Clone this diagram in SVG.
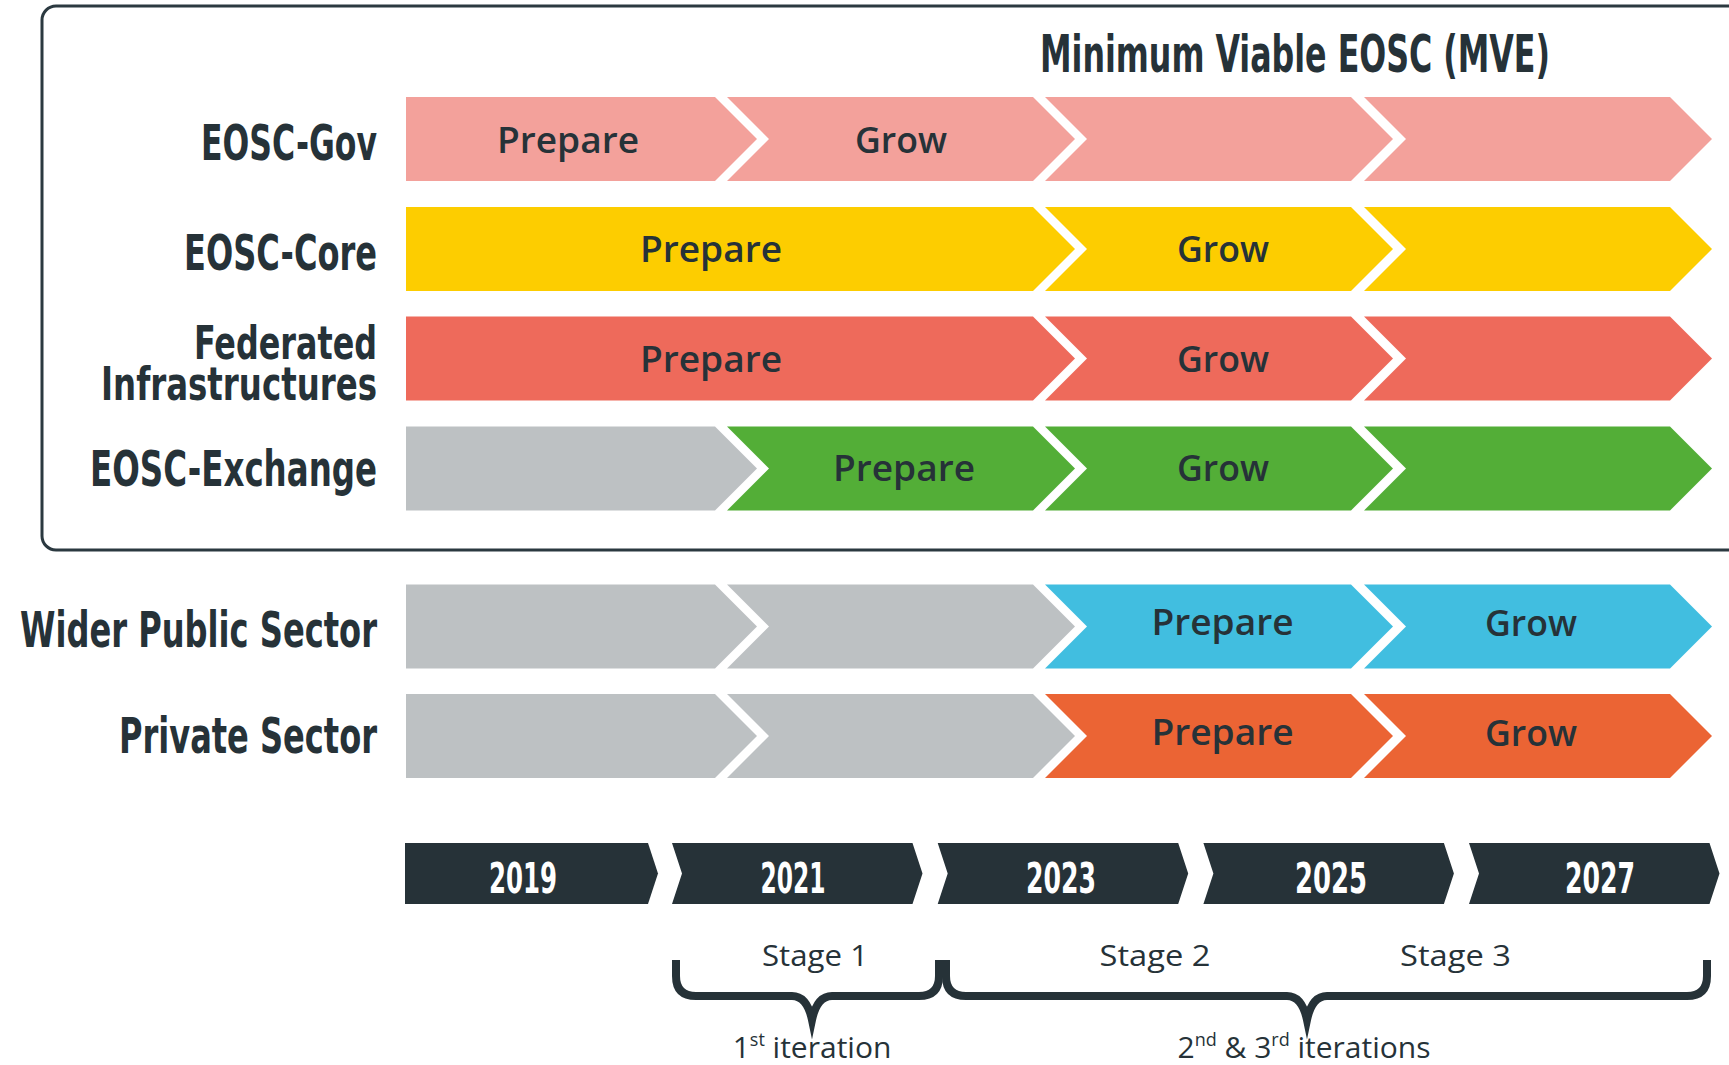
<svg xmlns="http://www.w3.org/2000/svg" xmlns:xlink="http://www.w3.org/1999/xlink" width="1729" height="1065" viewBox="0 0 1729 1065">
<style>
.lbl{font-family:"Liberation Sans Narrow","DejaVu Sans Condensed","DejaVu Sans",sans-serif;font-weight:bold;font-stretch:condensed;fill:#263238;font-size:50px;text-anchor:end}
.lbl2{font-size:46px}
.title{font-family:"Liberation Sans Narrow","DejaVu Sans Condensed","DejaVu Sans",sans-serif;font-weight:bold;font-stretch:condensed;fill:#263238;font-size:52px}
.yr{font-family:"Liberation Sans Narrow","DejaVu Sans Condensed","DejaVu Sans",sans-serif;font-weight:bold;font-stretch:condensed;fill:#ffffff;font-size:43px;text-anchor:middle}
.seg{font-family:"Open Sans","Noto Sans","DejaVu Sans",sans-serif;font-weight:600;fill:#263238;font-size:36px;text-anchor:middle}
.stg{font-family:"Open Sans","Noto Sans","DejaVu Sans",sans-serif;font-weight:400;fill:#263238;font-size:30px;text-anchor:middle}
.brace{fill:none;stroke:#263238;stroke-width:8;stroke-linejoin:miter;stroke-miterlimit:10}
.pink{fill:#F3A19B}.yel{fill:#FDCD00}.red{fill:#EE6A5B}.gray{fill:#BDC1C3}.grn{fill:#53AE37}.blue{fill:#41BEE0}.org{fill:#EB6434}.dark{fill:#263238}
</style>
<defs>
<path id="first" d="M0,0 H309 L351,42 L309,84 H0 Z"/>
<path id="firstD" d="M0,0 H627 L669,42 L627,84 H0 Z"/>
<path id="mid" d="M0,0 H306 L348,42 L306,84 H0 L42,42 Z"/>
<path id="yfirst" d="M0,0 H243 L253,30.5 L243,61 H0 Z"/>
<path id="ymid" d="M0,0 H240.5 L250.5,30.5 L240.5,61 H0 L10,30.5 Z"/>
</defs>
<rect width="1729" height="1065" fill="#ffffff"/>
<g id="frame">
<rect x="42" y="6" width="1800" height="544" rx="14" ry="14" fill="none" stroke="#2B3940" stroke-width="3"/>
<text class="title" x="1040" y="72" textLength="510" lengthAdjust="spacingAndGlyphs">Minimum Viable EOSC (MVE)</text>
</g>
<g id="eosc-gov">
<text class="lbl" x="377" y="160" textLength="176" lengthAdjust="spacingAndGlyphs">EOSC-Gov</text>
<use xlink:href="#first" x="406" y="97" class="pink"/>
<use xlink:href="#mid" x="727" y="97" class="pink"/>
<use xlink:href="#mid" x="1045" y="97" class="pink"/>
<use xlink:href="#mid" x="1364" y="97" class="pink"/>
<text class="seg" x="568" y="153" textLength="142" lengthAdjust="spacingAndGlyphs">Prepare</text>
<text class="seg" x="901" y="153" textLength="92" lengthAdjust="spacingAndGlyphs">Grow</text>
</g>
<g id="eosc-core">
<text class="lbl" x="377" y="270" textLength="193" lengthAdjust="spacingAndGlyphs">EOSC-Core</text>
<use xlink:href="#firstD" x="406" y="207" class="yel"/>
<use xlink:href="#mid" x="1045" y="207" class="yel"/>
<use xlink:href="#mid" x="1364" y="207" class="yel"/>
<text class="seg" x="711" y="262" textLength="142" lengthAdjust="spacingAndGlyphs">Prepare</text>
<text class="seg" x="1223" y="262" textLength="92" lengthAdjust="spacingAndGlyphs">Grow</text>
</g>
<g id="federated-infrastructures">
<text class="lbl lbl2" x="377" y="359" textLength="183" lengthAdjust="spacingAndGlyphs">Federated</text>
<text class="lbl lbl2" x="377" y="400" textLength="276" lengthAdjust="spacingAndGlyphs">Infrastructures</text>
<use xlink:href="#firstD" x="406" y="316.5" class="red"/>
<use xlink:href="#mid" x="1045" y="316.5" class="red"/>
<use xlink:href="#mid" x="1364" y="316.5" class="red"/>
<text class="seg" x="711" y="372" textLength="142" lengthAdjust="spacingAndGlyphs">Prepare</text>
<text class="seg" x="1223" y="372" textLength="92" lengthAdjust="spacingAndGlyphs">Grow</text>
</g>
<g id="eosc-exchange">
<text class="lbl" x="377" y="486" textLength="287" lengthAdjust="spacingAndGlyphs">EOSC-Exchange</text>
<use xlink:href="#first" x="406" y="426.5" class="gray"/>
<use xlink:href="#mid" x="727" y="426.5" class="grn"/>
<use xlink:href="#mid" x="1045" y="426.5" class="grn"/>
<use xlink:href="#mid" x="1364" y="426.5" class="grn"/>
<text class="seg" x="904" y="481" textLength="142" lengthAdjust="spacingAndGlyphs">Prepare</text>
<text class="seg" x="1223" y="481" textLength="92" lengthAdjust="spacingAndGlyphs">Grow</text>
</g>
<g id="wider-public-sector">
<text class="lbl" x="377" y="647" textLength="357" lengthAdjust="spacingAndGlyphs">Wider Public Sector</text>
<use xlink:href="#first" x="406" y="584.5" class="gray"/>
<use xlink:href="#mid" x="727" y="584.5" class="gray"/>
<use xlink:href="#mid" x="1045" y="584.5" class="blue"/>
<use xlink:href="#mid" x="1364" y="584.5" class="blue"/>
<text class="seg" x="1222.5" y="635" textLength="142" lengthAdjust="spacingAndGlyphs">Prepare</text>
<text class="seg" x="1531" y="636" textLength="92" lengthAdjust="spacingAndGlyphs">Grow</text>
</g>
<g id="private-sector">
<text class="lbl" x="377" y="753" textLength="258" lengthAdjust="spacingAndGlyphs">Private Sector</text>
<use xlink:href="#first" x="406" y="694" class="gray"/>
<use xlink:href="#mid" x="727" y="694" class="gray"/>
<use xlink:href="#mid" x="1045" y="694" class="org"/>
<use xlink:href="#mid" x="1364" y="694" class="org"/>
<text class="seg" x="1222.5" y="745" textLength="142" lengthAdjust="spacingAndGlyphs">Prepare</text>
<text class="seg" x="1531" y="746" textLength="92" lengthAdjust="spacingAndGlyphs">Grow</text>
</g>
<g id="timeline">
<use xlink:href="#yfirst" x="405" y="843" class="dark"/>
<use xlink:href="#ymid" x="672" y="843" class="dark"/>
<use xlink:href="#ymid" x="937.7" y="843" class="dark"/>
<use xlink:href="#ymid" x="1203.4" y="843" class="dark"/>
<use xlink:href="#ymid" x="1469" y="843" class="dark"/>
<text class="yr" x="523" y="893" textLength="68" lengthAdjust="spacingAndGlyphs">2019</text>
<text class="yr" x="793" y="893" textLength="65" lengthAdjust="spacingAndGlyphs">2021</text>
<text class="yr" x="1061" y="893" textLength="70" lengthAdjust="spacingAndGlyphs">2023</text>
<text class="yr" x="1331" y="893" textLength="72" lengthAdjust="spacingAndGlyphs">2025</text>
<text class="yr" x="1600" y="893" textLength="70" lengthAdjust="spacingAndGlyphs">2027</text>
</g>
<g id="stages">
<text class="stg" x="815" y="966" textLength="106" lengthAdjust="spacingAndGlyphs">Stage 1</text>
<text class="stg" x="1155" y="966" textLength="111" lengthAdjust="spacingAndGlyphs">Stage 2</text>
<text class="stg" x="1455.5" y="966" textLength="111" lengthAdjust="spacingAndGlyphs">Stage 3</text>
</g>
<g id="connectors">
<path class="brace" d="M676,960 V976 Q676,996 696,996 H792 Q807,996 812,1020 Q817,996 832,996 H919 Q939,996 939,976 V960"/>
<path class="brace" d="M946,960 V976 Q946,996 966,996 H1287 Q1302,996 1307,1020 Q1312,996 1327,996 H1687 Q1707,996 1707,976 V960"/>
</g>
<g id="iterations">
<text class="stg" x="812" y="1058">1<tspan font-size="18" dy="-12">st</tspan><tspan dy="12"> iteration</tspan></text>
<text class="stg" x="1304" y="1058">2<tspan font-size="18" dy="-12">nd</tspan><tspan dy="12"> &amp; 3</tspan><tspan font-size="18" dy="-12">rd</tspan><tspan dy="12"> iterations</tspan></text>
</g>
</svg>
